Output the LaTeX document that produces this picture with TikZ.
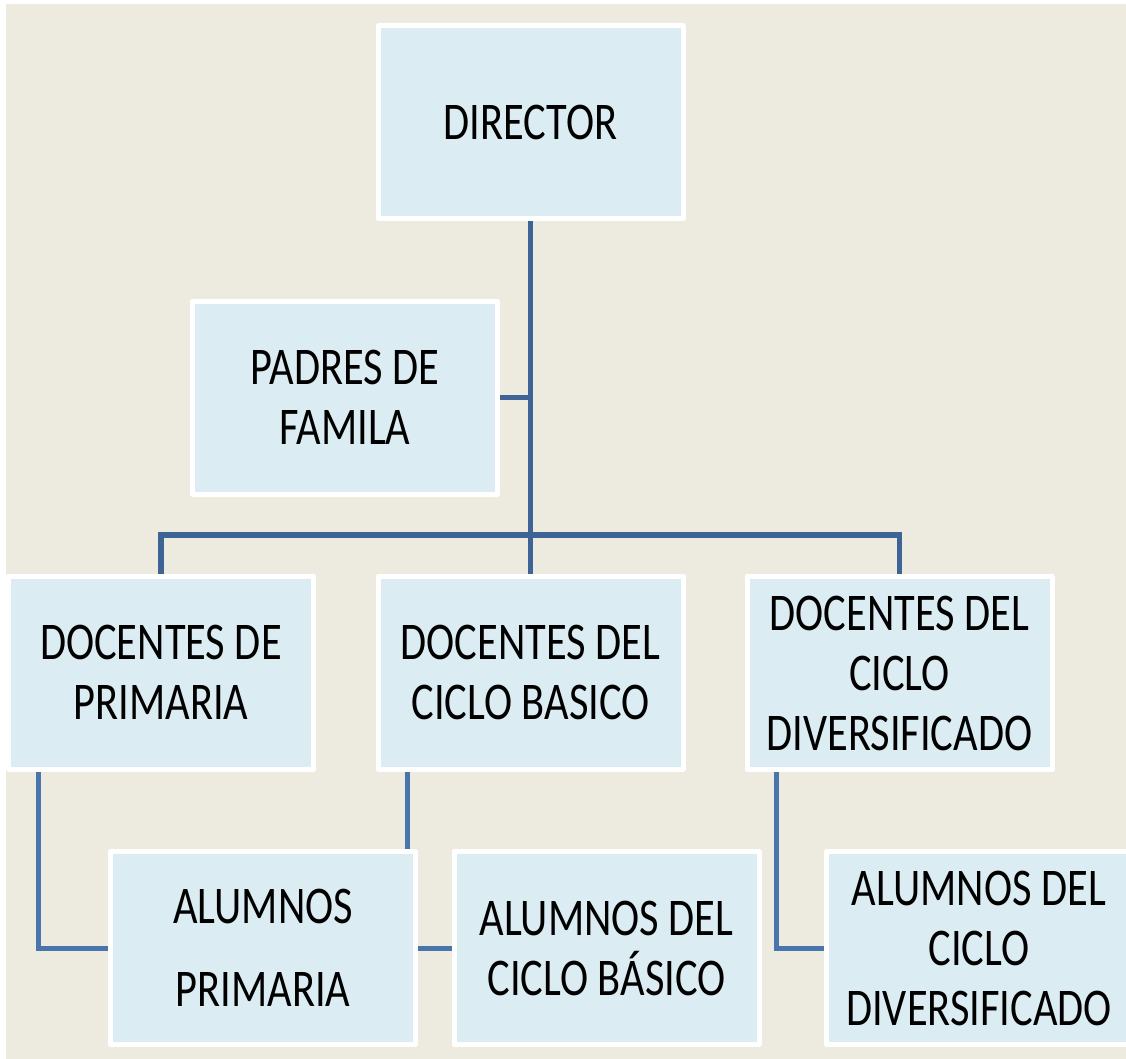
\documentclass[tikz,border=0pt]{standalone}
\usepackage{fontspec}
\setmainfont{Carlito}[FakeStretch=0.8]
\usepackage{tikz}
\usetikzlibrary{positioning,backgrounds}
\usepackage{xcolor}
\definecolor{paper}{RGB}{237,234,224}
\definecolor{boxfill}{RGB}{219,237,243}
\definecolor{linkdark}{RGB}{62,100,150}
\definecolor{linklight}{RGB}{74,116,172}

\begin{document}
\begin{tikzpicture}[x=1pt, y=-1pt,
                    line cap=butt, line join=round,
                    unit/.style={draw=white, line width=5pt, fill=boxfill,
                                 minimum width=305pt, minimum height=193pt,
                                 inner sep=0pt, align=center,
                                 font=\fontsize{53}{60}\selectfont},
                    link/.style={linkdark, line width=5.5pt},
                    sublink/.style={linklight, line width=5pt}]
  \def\drop{32pt} % offset of the lower drops from the box side

  \useasboundingbox (0,0) rectangle (1126,1059);

  % boxes
  \node[unit] (dir) at (530.5,122)   {DIRECTOR};
  \node[unit] (pad) at (345,397.5)   {PADRES DE\\FAMILA};
  \node[unit] (dp)  at (161,672.5)   {DOCENTES DE\\PRIMARIA};
  \node[unit] (db)  at (530.5,672.5) {DOCENTES DEL\\CICLO BASICO};
  \node[unit] (dd)  at (899.5,673)   {DOCENTES DEL\\CICLO\\DIVERSIFICADO};
  \node[unit] (ap)  at (263,948)     {ALUMNOS\\[23pt]PRIMARIA};
  \node[unit] (ab)  at (606.5,948)   {ALUMNOS DEL\\CICLO BÁSICO};
  \node[unit] (ad)  at (979,948)     {ALUMNOS DEL\\CICLO\\DIVERSIFICADO};
  \coordinate (bus) at (530.5,535);

  \begin{scope}[on background layer]
    \fill[paper] (6,4) rectangle (1126,1059);

    % upper tree
    \draw[link] (dir) -- (db);
    \draw[link] (pad.east) -- (pad.east -| dir.south);
    \draw[link] (dp.north) |- (bus) -| (dd.north);

    % lower links
    \draw[sublink] ([xshift=\drop]dp.south west) |- (ap.west);
    \draw[sublink] ([xshift=\drop]db.south west) |- (ab.west);
    \draw[sublink] ([xshift=\drop]dd.south west) |- (ad.west);
  \end{scope}

\end{tikzpicture}
\end{document}
